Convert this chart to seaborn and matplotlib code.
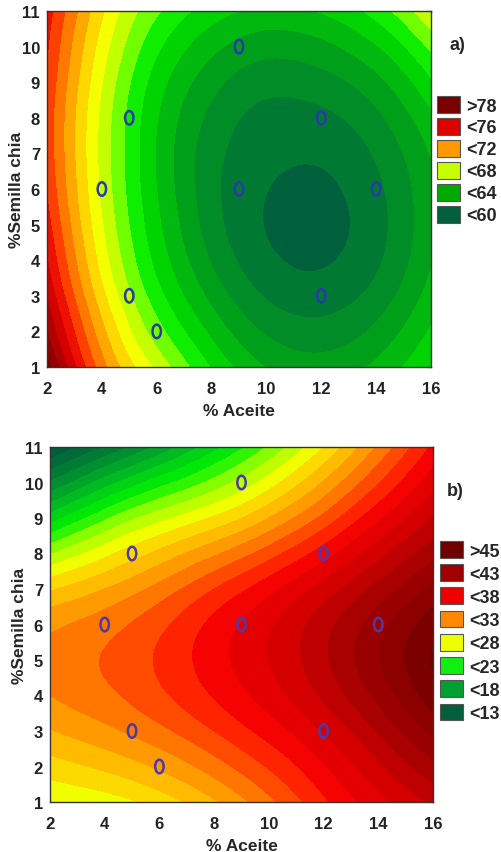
import numpy as np
import matplotlib
matplotlib.use("Agg")
import matplotlib.pyplot as plt
import matplotlib.tri as mtri
from matplotlib.colors import LinearSegmentedColormap, Normalize
from matplotlib.patches import Patch
from matplotlib.path import Path
import seaborn as sns

# ---------------- data ----------------
aceite = [2, 4, 6, 8, 10, 12, 14, 16]          # x grid (% Aceite)
semilla = [1, 3, 5, 7, 9, 11]                  # y grid (%Semilla chia)

# panel a) response surface, rows = semilla, cols = aceite
resp_a = [
    [81.0, 73.8, 69.4, 66.0, 63.65, 63.03, 63.97, 66.12],
    [78.0, 71.3, 66.6, 63.35, 61.18, 60.68, 61.76, 64.19],
    [76.2, 69.8, 65.2, 61.86, 60.04, 59.70, 60.83, 63.38],
    [75.3, 69.3, 64.8, 61.77, 60.45, 60.30, 61.45, 63.77],
    [75.5, 69.75, 65.5, 62.93, 61.72, 62.00, 63.30, 65.90],
    [76.3, 71.1, 67.5, 65.50, 64.60, 65.00, 66.60, 69.60],
]
# panel b) response surface
resp_b = [
    [25.5, 26.1, 27.4, 29.4, 32.0, 34.9, 37.5, 39.6],
    [29.5, 30.6, 32.0, 33.8, 35.8, 38.1, 40.9, 44.0],
    [31.5, 32.5, 34.0, 36.0, 38.0, 40.5, 43.5, 46.5],
    [28.0, 29.6, 31.5, 33.8, 36.1, 38.6, 41.3, 44.0],
    [19.0, 22.3, 24.9, 27.0, 29.6, 32.8, 36.3, 39.5],
    [10.0, 12.9, 16.0, 19.3, 22.8, 26.8, 31.2, 35.5],
]
# experimental design points
pts_aceite = [4, 5, 5, 6, 9, 9, 12, 12, 14]
pts_semilla = [6, 3, 8, 2, 6, 10, 3, 8, 6]

legend_a = [">78", "<76", "<72", "<68", "<64", "<60"]
legend_b = [">45", "<43", "<38", "<33", "<28", "<23", "<18", "<13"]

# ---------------- styling ----------------
sns.set_theme(style="white")
plt.rcParams["font.family"] = ["Liberation Sans", "DejaVu Sans"]
plt.rcParams["font.weight"] = "bold"

levels_a = [50.0] + [60.1 + 1.2 * k for k in range(18)] + [95.0]
colors_a = ["#00603c", "#007a32", "#008c26", "#009f1a", "#00b80e", "#00d400",
            "#10ee00", "#70ff00", "#c4ff00", "#f4ff00", "#ffd800", "#ffa800",
            "#ff7800", "#ff4000", "#ee1000", "#d40000", "#b00000", "#900000",
            "#720000"]

anchors_b = [(9.0, "#00503a"), (12.0, "#006a38"), (15.0, "#009030"),
             (18.0, "#00c020"), (21.0, "#00f000"), (23.5, "#90ff00"),
             (26.0, "#f0ff00"), (28.0, "#ffd000"), (29.8, "#ffa800"),
             (31.2, "#ff8400"), (33.0, "#ff5000"), (34.5, "#ff2400"),
             (36.0, "#f40000"), (38.5, "#d80000"), (41.0, "#b00000"),
             (44.0, "#900000"), (47.5, "#680000")]
levels_b = np.arange(8.6, 50, 1.4)

swatch_a = ["#7a0000", "#dd0000", "#ff9900", "#c8ff00", "#00aa00", "#00603c"]
swatch_b = ["#700000", "#a00000", "#ee0000", "#ff8800", "#eeff00", "#10f010",
            "#00a030", "#00603c"]

circ = Path.unit_circle()
oval = Path(circ.vertices * np.array([0.62, 1.0]), circ.codes)

W, H = 502, 853
fig = plt.figure(figsize=(W / 100, H / 100), dpi=100)


def panel(rect, resp, fill_kw, mcolor, tag, tagpos, labels, swatches, legpos, lspace):
    ax = fig.add_axes(rect)
    X, Y = np.meshgrid(aceite, semilla)
    z = np.array(resp, dtype=float).ravel()
    tri = mtri.Triangulation(X.ravel().astype(float), Y.ravel().astype(float))
    interp = mtri.CubicTriInterpolator(tri, z, kind="min_E")
    tri_r, z_r = mtri.UniformTriRefiner(tri).refine_field(z, triinterpolator=interp, subdiv=4)
    ax.tricontourf(tri_r, z_r, **fill_kw)
    sns.scatterplot(x=pts_aceite, y=pts_semilla, ax=ax, marker=oval, s=95,
                    facecolors="none", edgecolors=mcolor, linewidth=1.8, zorder=5)
    ax.set_xlim(2, 16)
    ax.set_ylim(1, 11)
    ax.set_xticks(range(2, 17, 2))
    ax.set_yticks(range(1, 12))
    ax.tick_params(axis="both", direction="in", length=3, width=0.8, top=True,
                   right=True, labelsize=12, colors="#222222")
    ax.tick_params(axis="x", pad=10)
    ax.tick_params(axis="y", pad=5)
    for lab in ax.get_xticklabels() + ax.get_yticklabels():
        lab.set_fontweight("bold")
    for s in ax.spines.values():
        s.set_color("#333333")
        s.set_linewidth(1.0)
    ax.set_xlabel("% Aceite", fontsize=12.5, fontweight="bold", labelpad=5)
    ax.set_ylabel("%Semilla chia", fontsize=12.5, fontweight="bold", labelpad=-2)
    fig.text(tagpos[0] / W, 1 - tagpos[1] / H, tag, fontsize=13,
             fontweight="bold", va="center", ha="left")
    handles = [Patch(facecolor=c, edgecolor="#555555", linewidth=0.8) for c in swatches]
    ax.legend(handles, labels, loc="upper left",
              bbox_to_anchor=(legpos[0] / W, 1 - legpos[1] / H),
              bbox_transform=fig.transFigure, frameon=False,
              handlelength=1.3, handleheight=1.05, handletextpad=0.3,
              labelspacing=lspace, borderpad=0, borderaxespad=0,
              prop={"size": 13, "weight": "bold"})
    return ax


cmap_b = LinearSegmentedColormap.from_list(
    "b", [((v - anchors_b[0][0]) / (anchors_b[-1][0] - anchors_b[0][0]), c)
          for v, c in anchors_b])
norm_b = Normalize(anchors_b[0][0], anchors_b[-1][0])

panel([47 / W, 1 - 368 / H, 384 / W, 356 / H], resp_a,
      dict(levels=levels_a, colors=colors_a), "#2a3aa8", "a)", (450, 45),
      legend_a, swatch_a, (437, 97), 0.19)
panel([50 / W, 1 - 803 / H, 383 / W, 355 / H], resp_b,
      dict(levels=levels_b, cmap=cmap_b, norm=norm_b, extend="both"),
      "#4b3aa8", "b)", (447, 492), legend_b, swatch_b, (440, 542), 0.26)

fig.savefig("out.png", dpi=100)
